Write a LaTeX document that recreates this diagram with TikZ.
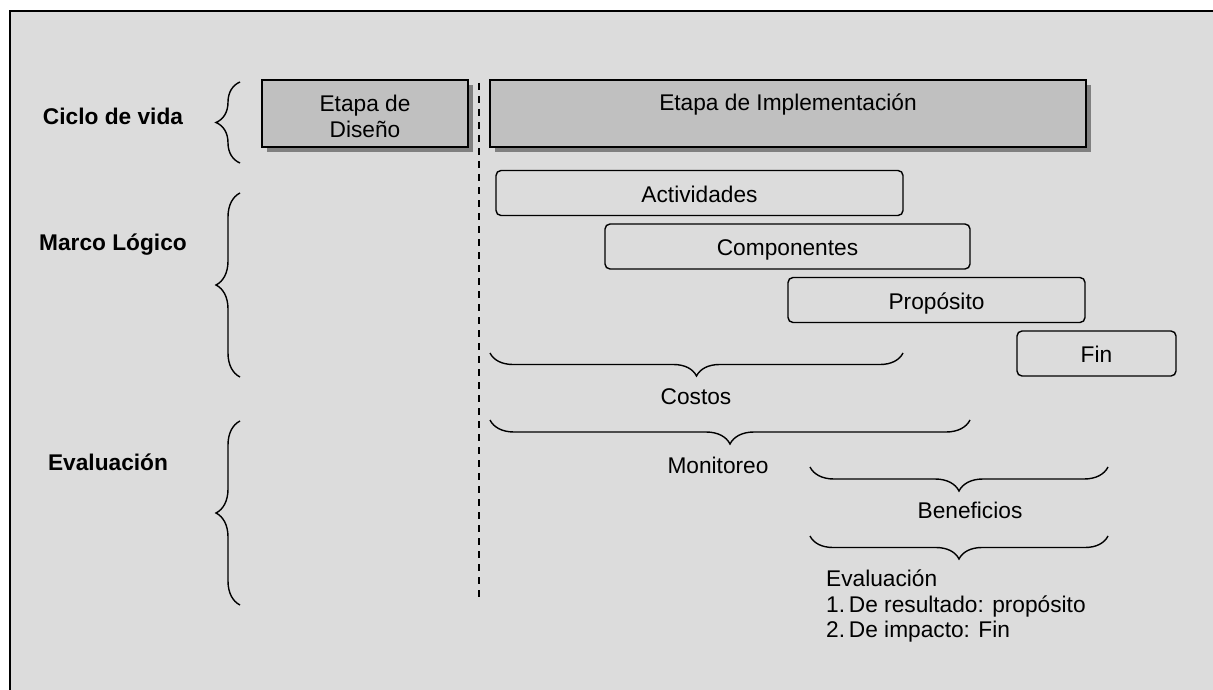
\documentclass[tikz,border=0pt]{standalone}
\usepackage{fontspec}
\setmainfont{Liberation Sans}
\usetikzlibrary{decorations.pathreplacing,shadows}
\definecolor{fondo}{RGB}{220,220,220}
\definecolor{caja}{RGB}{192,192,192}
\definecolor{sombra}{RGB}{128,128,128}

\begin{document}
\begin{tikzpicture}  % ------ Ciclo de vida, marco logico y evaluacion --------
      [x=1pt,y=-1pt,
       texto/.style={font=\fontsize{22.7}{25.5}\selectfont, inner sep=0pt},
       titulo/.style={texto, font=\fontsize{22.7}{25.5}\selectfont\bfseries, anchor=base},
       etapa/.style={texto, draw, line width=1.6pt, fill=caja,
         drop shadow={shadow xshift=5pt, shadow yshift=-5pt, fill=sombra, opacity=1}},
       marcolog/.style={texto, draw, line width=1.4pt, rounded corners=5pt,
         minimum height=45, text height=18pt, text depth=0pt},
       llave/.style={decorate, decoration={brace, amplitude=#1}, line width=1.4pt}]

    \useasboundingbox (0,0) rectangle (1213,690);
    \fill[fondo] (10,11) rectangle (1213,690);
    \draw[line width=2pt] (10,690) -- (10,11) -- (1213,11);

    % llaves de la izquierda
    \coordinate (C1) at (240,163);  \coordinate (C2) at (240,82);
    \coordinate (M1) at (240,377);  \coordinate (M2) at (240,193);
    \coordinate (E1) at (240,605);  \coordinate (E2) at (240,421);
    % llaves horizontales
    \coordinate (K1) at (903,353);  \coordinate (K2) at (490,353);
    \coordinate (N1) at (970,420);  \coordinate (N2) at (490,420);
    \coordinate (B1) at (1108,467); \coordinate (B2) at (810,467);
    \coordinate (V1) at (1108,536); \coordinate (V2) at (810,536);
    % linea de corte
    \coordinate (D1) at (479,83);   \coordinate (D2) at (479,598);

    \node[titulo] (ciclo) at (113,125) {Ciclo de vida};
    \node[titulo] (marco) at (113,250) {Marco Lógico};
    \node[titulo] (evalua) at (108,470) {Evaluación};

    \node[etapa, minimum width=206, minimum height=67, align=center] (diseno)
      at (365,113.5) {\rule{0pt}{22pt}Etapa de\\Diseño};
    \node[etapa, minimum width=596, minimum height=67, text height=16.3pt, text depth=21.3pt] (implem)
      at (788,113.5) {Etapa de Implementación};

    \node[marcolog, minimum width=407] (activ) at (699.5,193) {Actividades};
    \node[marcolog, minimum width=365] (compo) at (787.5,246.5) {Componentes};
    \node[marcolog, minimum width=297] (propo) at (936.5,300) {Propósito};
    \node[marcolog, minimum width=159] (fin) at (1096.5,353.5) {Fin};

    \draw[line width=1.3pt, dash pattern=on 7pt off 6pt] (D1) -- (D2);

    \draw[llave=24] (C1) -- (C2);
    \draw[llave=24] (M1) -- (M2);
    \draw[llave=24] (E1) -- (E2);
    \draw[llave=23] (K1) -- (K2);
    \draw[llave=24] (N1) -- (N2);
    \draw[llave=24] (B1) -- (B2);
    \draw[llave=23] (V1) -- (V2);

    \node[texto, anchor=base] (costos) at (696,404) {Costos};
    \node[texto, anchor=base] (monit) at (718,473) {Monitoreo};
    \node[texto, anchor=base] (benef) at (970,518) {Beneficios};
    \node[texto, anchor=north west, align=left] (evalres) at (826,570)
      {Evaluación\\1.\,De resultado: propósito\\2.\,De impacto: Fin};
\end{tikzpicture}
\end{document}
